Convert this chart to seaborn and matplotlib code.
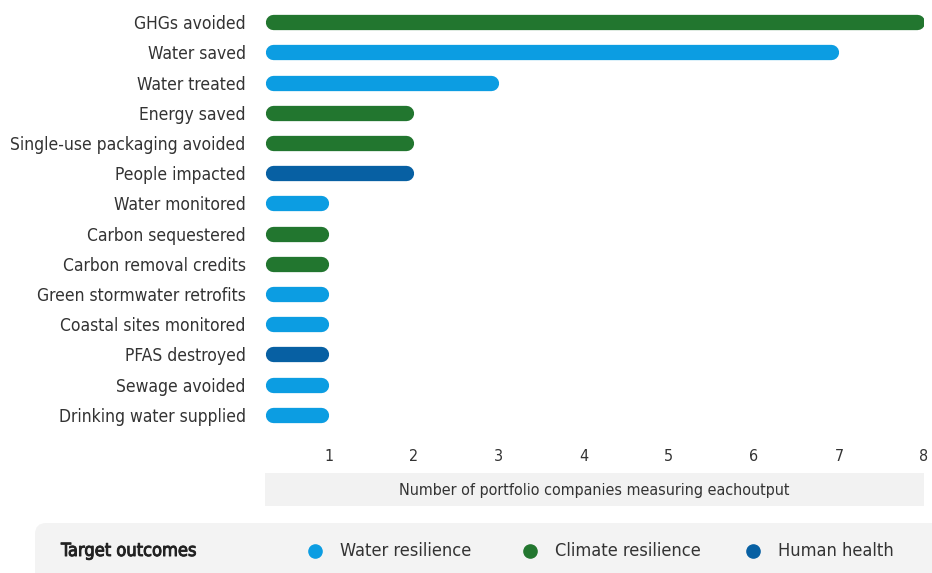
import matplotlib
matplotlib.use("Agg")
import matplotlib.pyplot as plt
from matplotlib import font_manager
from matplotlib.font_manager import FontProperties
from matplotlib.patches import FancyBboxPatch, Rectangle
from matplotlib.lines import Line2D
import matplotlib.patheffects as pe
import seaborn as sns
import pandas as pd

categories = ["GHGs avoided", "Water saved", "Water treated", "Energy saved",
              "Single-use packaging avoided", "People impacted", "Water monitored",
              "Carbon sequestered", "Carbon removal credits", "Green stormwater retrofits",
              "Coastal sites monitored", "PFAS destroyed", "Sewage avoided",
              "Drinking water supplied"]
values = [8, 7, 3, 2, 2, 2, 1, 1, 1, 1, 1, 1, 1, 1]
outcomes = ["Climate resilience", "Water resilience", "Water resilience", "Climate resilience",
            "Climate resilience", "Human health", "Water resilience", "Climate resilience",
            "Climate resilience", "Water resilience", "Water resilience", "Human health",
            "Water resilience", "Water resilience"]
legend_order = ["Water resilience", "Climate resilience", "Human health"]
palette = {"Water resilience": "#0c9de2", "Climate resilience": "#22762f", "Human health": "#0760a3"}
x_ticks = [1, 2, 3, 4, 5, 6, 7, 8]
x_title = "Number of portfolio companies measuring eachoutput"
legend_title = "Target outcomes"

sns.set_theme(style="white")
plt.rcParams["font.family"] = ["DejaVu Sans"]

# look for a condensed regular face
cond = None
for f in font_manager.fontManager.ttflist:
    n = f.name.lower()
    fn = f.fname.lower()
    if f.style != "normal" or "mono" in n or "mono" in fn or "serif" in fn:
        continue
    is_cond = ("narrow" in n or "condensed" in n or "condensed" in fn or "narrow" in fn
               or f.stretch in ("condensed", "semi-condensed"))
    if is_cond and f.weight in (400, "normal", "regular"):
        cond = f.fname
        break

fp = FontProperties(fname=cond) if cond else FontProperties(family="DejaVu Sans")
TXT = "#333333"

fig = plt.figure(figsize=(9.32, 5.73), dpi=100)
renderer = fig.canvas.get_renderer()


def fit(text, target_px, prop):
    t = fig.text(0, 0, text, fontproperties=prop, size=10)
    w = t.get_window_extent(renderer).width
    t.remove()
    return 10 * target_px / w


ylab_size = min(14.5, fit("Single-use packaging avoided", 235, fp))
title_size = min(11.5, fit(x_title, 392, fp))
leg_size = min(14, fit("Water resilience", 132, fp))
legt_size = min(14, fit(legend_title, 136, fp))
tick_size = min(11.5, title_size * 1.08)

df = pd.DataFrame({"category": categories, "value": values, "outcome": outcomes})

ax = fig.add_axes([265 / 932, 1 - 430 / 573, (924 - 265) / 932, (430 - 7) / 573])
sns.barplot(data=df, y="category", x="value", hue="outcome", palette=palette,
            dodge=False, legend=False, ax=ax, orient="h", width=0.5, saturation=1)

x_left = 0.25
ax.set_xlim(x_left, 8.0)
px_per_unit = (924 - 265) / (8.0 - x_left)
r = 7.5 / px_per_unit
for p in list(ax.patches):
    w = p.get_width()
    if w <= 0:
        continue
    yc = p.get_y() + p.get_height() / 2
    ax.plot([x_left + r, w - r], [yc, yc], color=p.get_facecolor(), lw=11,
            solid_capstyle="round", zorder=3)
    p.set_visible(False)

ax.set_ylim(len(categories) - 0.5, -0.5)
ax.set_xticks(x_ticks)
ax.set_xticklabels([str(t) for t in x_ticks])
ax.tick_params(axis="x", length=0, pad=14)
ax.tick_params(axis="y", length=0, pad=14)
for lab in ax.get_xticklabels():
    lab.set_fontproperties(fp)
    lab.set_size(tick_size)
    lab.set_color(TXT)
for lab in ax.get_yticklabels():
    lab.set_fontproperties(fp)
    lab.set_size(ylab_size)
    lab.set_color(TXT)
ax.set_xlabel("")
ax.set_ylabel("")
for s in ax.spines.values():
    s.set_visible(False)

# x-axis title band (pixel rows 473-506)
h_ax = 430 - 7
ax.add_patch(Rectangle((0, -(506 - 430) / h_ax), 1.0, (506 - 473) / h_ax,
                       transform=ax.transAxes, facecolor="#f2f2f2", edgecolor="none",
                       clip_on=False))
ax.text(0.5, -(490 - 430) / h_ax, x_title, transform=ax.transAxes, ha="center",
        va="center", fontproperties=fp, size=title_size, color=TXT)

# legend band
fig.add_artist(FancyBboxPatch((35 / 932, -0.05), 1.0, 1 - 523 / 573 + 0.05,
                              boxstyle="round,pad=0,rounding_size=0.012",
                              transform=fig.transFigure, facecolor="#f3f3f3",
                              edgecolor="none", mutation_aspect=932 / 573))
ly = 1 - 551 / 573
fig.text(61 / 932, ly, legend_title, fontproperties=fp, size=legt_size,
         color="#222222", va="center", ha="left",
         path_effects=[pe.withStroke(linewidth=0.7, foreground="#222222")])
marker_x = [315, 530, 753]
for mx, lab in zip(marker_x, legend_order):
    fig.add_artist(Line2D([mx / 932], [ly], marker="o", markersize=9.5,
                          color=palette[lab], transform=fig.transFigure))
    fig.text((mx + 25) / 932, ly, lab, fontproperties=fp, size=leg_size,
             color=TXT, va="center", ha="left")

fig.savefig("out.png", dpi=100)
